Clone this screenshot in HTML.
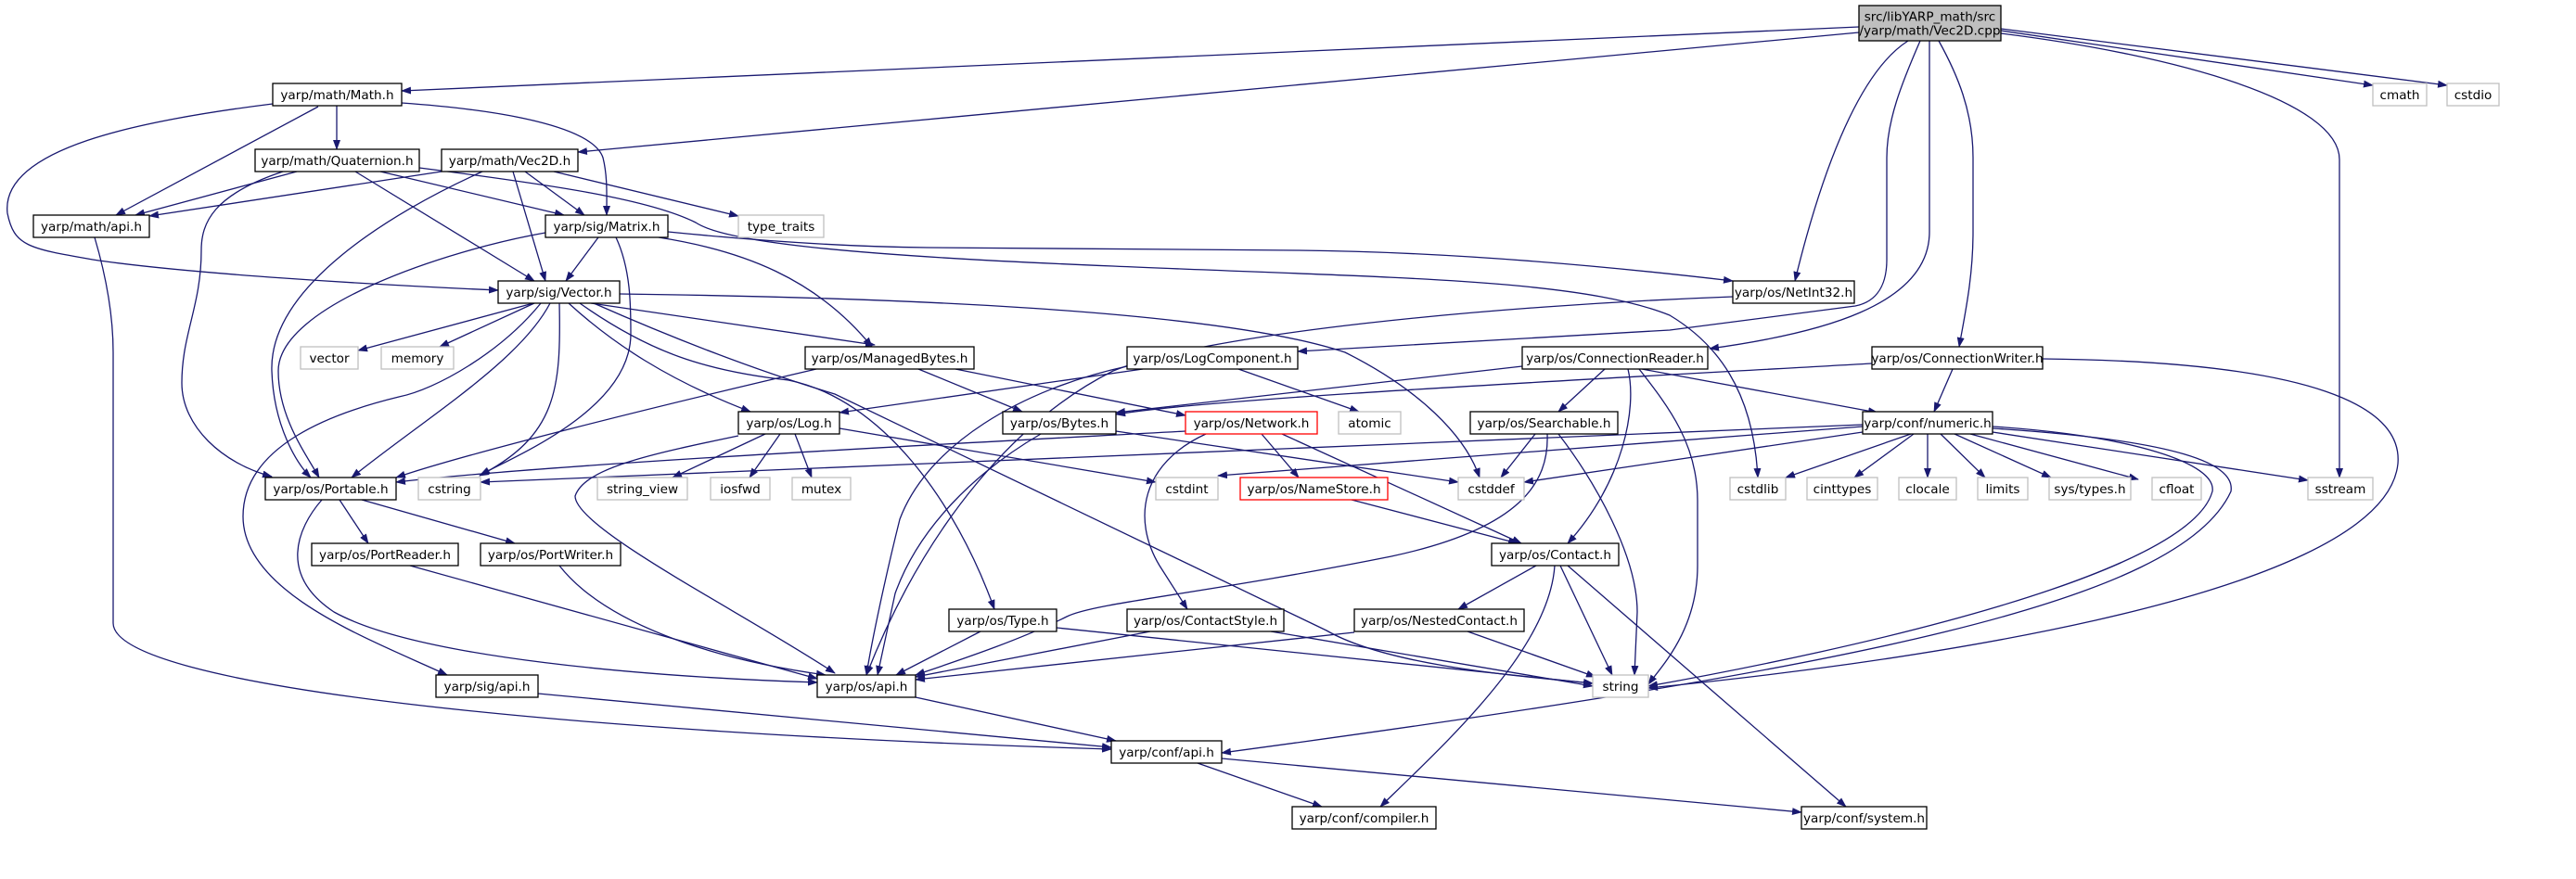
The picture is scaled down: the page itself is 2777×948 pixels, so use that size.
<!DOCTYPE html>
<html><head><meta charset="utf-8"><title>Vec2D.cpp include graph</title>
<style>
html,body{margin:0;padding:0;background:#fff;}
svg{display:block;}
.e{fill:none;stroke:#191970;stroke-width:1.3;}
.n rect{fill:#fff;stroke:#000;stroke-width:1.3;}
.n.g rect{stroke:#bfbfbf;}
.n.r rect{stroke:#ff0000;}
.n.root rect{fill:#bfbfbf;stroke:#000;}
text{font-family:"DejaVu Sans","Liberation Sans",sans-serif;font-size:13.6px;fill:#000;text-anchor:middle;}
</style></head>
<body>
<svg id="g" width="2777" height="948" viewBox="0 0 2777 948" xmlns="http://www.w3.org/2000/svg">
<defs>
<marker id="ah" markerWidth="11" markerHeight="8" refX="10" refY="4" orient="auto" markerUnits="userSpaceOnUse">
<path d="M0,0 L11,4 L0,8 z" fill="#191970"/>
</marker>
</defs>
<g id="edges"></g>
<g id="nodes"></g>
</svg>
<script>
const nodes = [
 ["root","src/libYARP_math/src\n/yarp/math/Vec2D.cpp",2004,6,153,38,"root"],
 ["math-h","yarp/math/Math.h",294,90,139,24,""],
 ["quaternion-h","yarp/math/Quaternion.h",275,161,177,24,""],
 ["vec2d-h","yarp/math/Vec2D.h",476,161,147,24,""],
 ["math-api-h","yarp/math/api.h",36,232,125,24,""],
 ["matrix-h","yarp/sig/Matrix.h",588,232,132,24,""],
 ["type-traits","type_traits",796,232,92,24,"g"],
 ["vector-h","yarp/sig/Vector.h",537,303,131,24,""],
 ["netint32-h","yarp/os/NetInt32.h",1868,303,131,24,""],
 ["vector","vector",324,374,62,24,"g"],
 ["memory","memory",411,374,78,24,"g"],
 ["managedbytes-h","yarp/os/ManagedBytes.h",868,374,182,24,""],
 ["logcomponent-h","yarp/os/LogComponent.h",1215,374,184,24,""],
 ["connectionreader-h","yarp/os/ConnectionReader.h",1641,374,200,24,""],
 ["connectionwriter-h","yarp/os/ConnectionWriter.h",2018,374,184,24,""],
 ["log-h","yarp/os/Log.h",796,444,109,24,""],
 ["bytes-h","yarp/os/Bytes.h",1081,444,122,24,""],
 ["network-h","yarp/os/Network.h",1278,444,142,24,"r"],
 ["atomic","atomic",1443,444,67,24,"g"],
 ["searchable-h","yarp/os/Searchable.h",1585,444,159,24,""],
 ["numeric-h","yarp/conf/numeric.h",2008,444,140,24,""],
 ["portable-h","yarp/os/Portable.h",286,515,141,24,""],
 ["cstring","cstring",451,515,67,24,"g"],
 ["string-view","string_view",644,515,97,24,"g"],
 ["iosfwd","iosfwd",766,515,64,24,"g"],
 ["mutex","mutex",854,515,63,24,"g"],
 ["cstdint","cstdint",1246,515,67,24,"g"],
 ["namestore-h","yarp/os/NameStore.h",1337,515,159,24,"r"],
 ["cstddef","cstddef",1572,515,71,24,"g"],
 ["cstdlib","cstdlib",1865,515,60,24,"g"],
 ["cinttypes","cinttypes",1948,515,76,24,"g"],
 ["clocale","clocale",2047,515,62,24,"g"],
 ["limits","limits",2132,515,54,24,"g"],
 ["sys-types-h","sys/types.h",2209,515,88,24,"g"],
 ["cfloat","cfloat",2320,515,53,24,"g"],
 ["sstream","sstream",2488,515,70,24,"g"],
 ["cmath","cmath",2558,90,58,24,"g"],
 ["cstdio","cstdio",2638,90,56,24,"g"],
 ["portreader-h","yarp/os/PortReader.h",336,586,158,24,""],
 ["portwriter-h","yarp/os/PortWriter.h",518,586,151,24,""],
 ["contact-h","yarp/os/Contact.h",1608,586,137,24,""],
 ["type-h","yarp/os/Type.h",1023,657,116,24,""],
 ["contactstyle-h","yarp/os/ContactStyle.h",1215,657,169,24,""],
 ["nestedcontact-h","yarp/os/NestedContact.h",1460,657,183,24,""],
 ["sig-api-h","yarp/sig/api.h",470,728,110,24,""],
 ["os-api-h","yarp/os/api.h",881,728,106,24,""],
 ["string","string",1717,728,60,24,"g"],
 ["conf-api-h","yarp/conf/api.h",1198,799,119,24,""],
 ["compiler-h","yarp/conf/compiler.h",1393,870,155,24,""],
 ["system-h","yarp/conf/system.h",1942,870,135,24,""]
];
const edgePaths = [
 "M2004 29 L433 98","M2004 35 L623 164",
 "M2057 44 C2000 80 1960 200 1935 303",
 "M2070 44 C2050 90 2034 130 2034 170 L2034 280 C2034 305 2025 325 2000 330 L1800 356 L1399 379",
 "M2080 44 L2080 250 C2080 330 1960 360 1843 376",
 "M2090 44 C2110 80 2127 120 2127 170 L2127 250 C2127 300 2118 340 2112 374",
 "M2157 36 C2350 60 2522 110 2522 172 L2522 515",
 "M2157 33 L2558 92","M2157 31 L2638 92",
 "M363 114 L363 161","M343 115 L125 232",
 "M433 111 C560 120 640 140 650 170 C655 190 654 210 654 232",
 "M294 112 C150 130 0 160 8 230 C15 265 30 268 100 280 C200 295 400 307 537 313",
 "M320 185 L146 232",
 "M305 185 C230 210 217 240 217 270 C217 330 196 360 196 413 C196 460 240 500 293 514",
 "M410 185 L608 232","M383 185 L576 303",
 "M452 181 C600 200 700 215 750 240 C780 260 900 275 1200 287 C1500 300 1700 300 1800 340 C1850 370 1890 420 1895 515",
 "M720 250 C800 258 900 266 1000 267 L1400 270 C1600 272 1800 295 1868 303",
 "M710 256 C800 270 880 300 940 374",
 "M476 185 L161 233",
 "M520 185 C420 230 290 310 293 400 C295 460 320 500 335 515",
 "M566 185 L630 232","M553 185 L588 303","M597 185 L796 233",
 "M102 256 C115 300 122 340 122 380 L122 672 C122 740 600 790 1198 808",
 "M645 256 L610 303",
 "M588 251 C480 270 300 330 300 400 C300 450 330 490 344 515",
 "M664 256 C680 290 680 330 680 360 C680 440 560 490 518 512",
 "M575 327 L386 378","M576 327 L474 374",
 "M593 327 C560 390 460 450 379 515",
 "M583 327 C540 380 470 420 430 428 C360 445 262 480 262 557 C262 640 400 690 482 728",
 "M603 327 C605 420 600 470 517 513",
 "M613 327 C660 370 720 410 809 444",
 "M637 327 L943 372",
 "M625 327 C700 380 760 400 850 410 C950 430 1030 540 1072 657",
 "M640 327 C760 380 850 410 900 425 L1430 680 C1500 720 1650 730 1717 737",
 "M668 317 C900 320 1300 330 1450 380 C1530 420 1580 470 1595 515",
 "M990 398 L1102 444","M1030 398 L1278 448",
 "M880 398 C700 440 500 490 427 515",
 "M1335 398 L1465 444","M1232 398 L905 445",
 "M1215 395 C1100 420 1000 480 970 560 C955 620 940 690 934 728",
 "M1641 395 L1203 445","M1730 398 L1680 444",
 "M1755 398 C1765 440 1750 520 1690 586",
 "M1770 398 L2024 445",
 "M1767 398 C1800 440 1830 480 1830 540 L1830 610 C1830 680 1790 720 1777 738",
 "M1655 468 L1618 515",
 "M1680 468 C1720 520 1765 600 1765 660 L1762 728",
 "M1668 468 C1670 520 1640 570 1500 600 C1300 640 1180 650 1150 665 C1100 690 1040 710 987 728",
 "M1360 468 L1400 515","M1382 468 L1640 586",
 "M1300 468 C1230 500 1220 560 1250 610 L1280 657",
 "M1278 465 C1000 480 600 500 427 520",
 "M1457 539 L1636 586",
 "M1122 468 C1050 510 990 570 965 640 L946 728",
 "M1203 465 L1572 520",
 "M825 468 L725 515","M841 468 L808 515","M857 468 L875 515","M905 462 L1246 520",
 "M796 470 C700 490 630 505 620 535 C620 570 800 660 900 726",
 "M366 539 L397 586","M390 539 L555 586",
 "M347 539 C320 570 300 620 360 660 C450 710 700 730 881 736",
 "M442 610 L881 732","M603 610 C650 670 760 710 890 728",
 "M1057 681 L966 728","M1139 677 L1717 737",
 "M1240 681 L987 730","M1370 681 L1717 740",
 "M1460 682 L987 733","M1582 681 L1720 730",
 "M1656 610 L1572 657","M1682 610 L1738 728",
 "M1676 610 C1670 700 1560 800 1488 870","M1690 610 L1990 870",
 "M580 748 L1198 806","M987 752 L1203 799",
 "M1291 823 L1425 870","M1317 818 L1942 876",
 "M2060 468 L1925 515","M2063 468 L1999 515","M2078 468 L2078 515","M2092 468 L2140 515",
 "M2107 468 L2211 515","M2124 468 L2305 517","M2148 466 L2488 518",
 "M2008 466 L1643 520","M2008 460 L1313 513","M2008 458 L518 520",
 "M2148 460 C2300 470 2390 500 2385 530 C2360 620 2000 700 1777 740",
 "M2148 462 C2350 475 2410 500 2405 530 C2350 650 2000 720 1317 812",
 "M2105 398 L2085 444",
 "M2202 387 C2500 390 2590 440 2585 500 C2570 650 2000 720 1777 742",
 "M2018 392 C1700 410 1300 430 1203 447",
 "M1868 320 C1600 330 1300 360 1200 400 C1100 450 1000 560 934 728"
];
const NS="http://www.w3.org/2000/svg";
const eg=document.getElementById('edges');
edgePaths.forEach((d,i)=>{
 const p=document.createElementNS(NS,'path');
 p.setAttribute('d',d);
 p.setAttribute('class','e');
 p.setAttribute('marker-end','url(#ah)');
 
 
 eg.appendChild(p);
});
const ng=document.getElementById('nodes');
nodes.forEach(n=>{
 const [id,label,x,y,w,h,cls]=n;
 const g=document.createElementNS(NS,'g');
 g.setAttribute('class','n '+cls);
 
 
 const r=document.createElementNS(NS,'rect');
 r.setAttribute('x',x);r.setAttribute('y',y);r.setAttribute('width',w);r.setAttribute('height',h);
 g.appendChild(r);
 const lines=label.split('\n');
 lines.forEach((ln,k)=>{
  const t=document.createElementNS(NS,'text');
  t.setAttribute('x',x+w/2);
  const cy = y + h/2 + (k-(lines.length-1)/2)*15 + 5;
  t.setAttribute('y',cy);
  t.textContent=ln;
  g.appendChild(t);
 });
 ng.appendChild(g);
});
</script>
</body></html>
